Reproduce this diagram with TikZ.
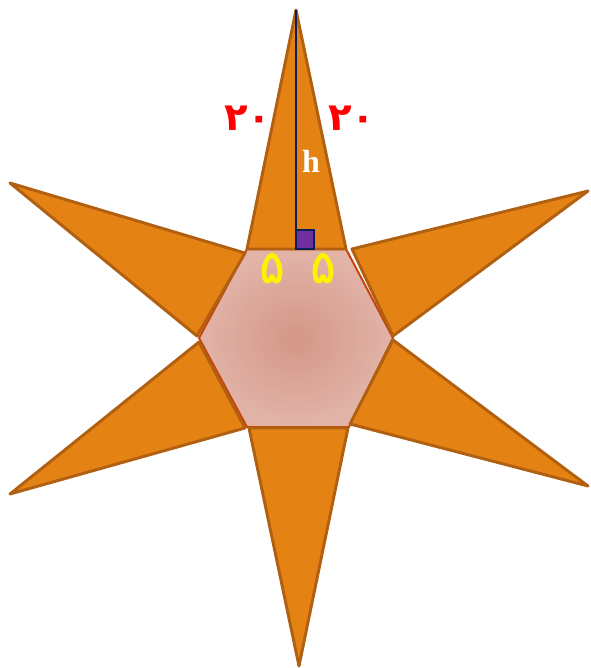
\documentclass[tikz,border=0pt]{standalone}
\usepackage{fontspec}
\newfontfamily\arabicfont[Script=Arabic]{DejaVu Sans}
\newfontfamily\arabicbold[Script=Arabic,FakeBold=1.2]{DejaVu Sans}
\newfontfamily\hfont{Liberation Serif}
\usetikzlibrary{shadings}
\definecolor{petal}{RGB}{228,130,20}
\definecolor{petalline}{RGB}{176,96,16}
\definecolor{hexin}{RGB}{212,150,135}
\definecolor{hexout}{RGB}{226,180,168}
\definecolor{navy}{RGB}{10,30,90}
\definecolor{sq}{RGB}{112,48,160}
\tikzset{
  petalshape/.style={fill=petal,draw=petalline,line width=2.2pt,line join=round},
  rednum/.style={text=red,font=\arabicfont\bfseries\fontsize{29}{29}\selectfont},
  yellnum/.style={text=yellow,font=\arabicbold\fontsize{35}{35}\selectfont},
}
\begin{document}
\begin{tikzpicture}[x=0.75pt,y=-0.75pt]
\useasboundingbox (0,0) rectangle (590,668);
% hexagon
\shade[inner color=hexin,outer color=hexout] (247,249)--(346,249)--(393,338)--(349,427)--(247,427)--(199,338)--cycle;
\draw[petalline!70!red,line width=1.5pt,line join=round] (247,249)--(346,249)--(393,338)--(349,427)--(247,427)--(199,338)--cycle;
% petals
\draw[petalshape] (296,10)--(247,249)--(346,249)--cycle;
\draw[petalshape] (588,191)--(352,249)--(393,336)--cycle;
\draw[petalshape] (588,486)--(393,340)--(350,424)--cycle;
\draw[petalshape] (299,666)--(348,428)--(249,428)--cycle;
\draw[petalshape] (10,494)--(245,428)--(199,342)--cycle;
\draw[petalshape] (10,183)--(197,336)--(245,253)--cycle;
% height
\coordinate (apex) at (296,10);
\coordinate (foot) at (296,249);
\draw[navy,line width=1.8pt] (apex)--(foot);
\draw[navy,fill=sq,line width=1.6pt] (296,230) rectangle (314,249);
\node[text=white,font=\hfont\bfseries\fontsize{24}{24}\selectfont] (h) at (311,161) {h};
\node[rednum] (l20) at (248,118) {۲۰};
\node[rednum] (r20) at (352,118) {۲۰};
\node[yellnum] (l5) at (272,268) {۵};
\node[yellnum] (r5) at (323,268) {۵};
\end{tikzpicture}
\end{document}
